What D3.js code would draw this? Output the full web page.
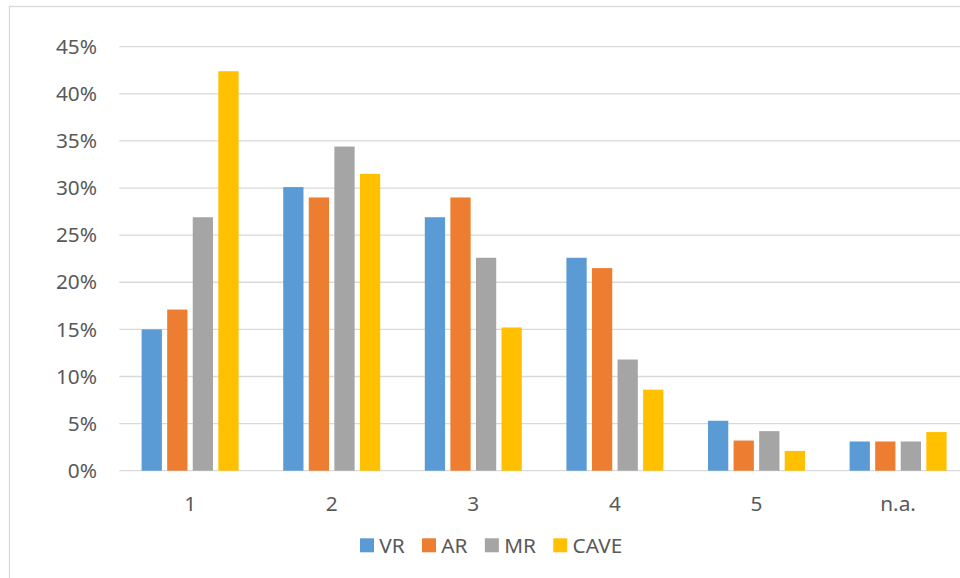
<!DOCTYPE html>
<html>
<head>
<meta charset="utf-8">
<script src="https://cdn.jsdelivr.net/npm/d3@7"></script>
<style>
  html, body { margin: 0; padding: 0; background: #ffffff; }
  svg { display: block; }
  text { font-family: "Noto Sans", "Open Sans", sans-serif; fill: #595959; }
</style>
</head>
<body>
<svg id="chart" width="960" height="578"></svg>
<script>
// Share of responses per rating, by presentation medium
const categories = ["1", "2", "3", "4", "5", "n.a."];
const seriesNames = ["VR", "AR", "MR", "CAVE"];
const vrValues   = [15.0, 30.1, 26.9, 22.6, 5.3, 3.1];
const arValues   = [17.1, 29.0, 29.0, 21.5, 3.2, 3.1];
const mrValues   = [26.9, 34.4, 22.6, 11.8, 4.2, 3.1];
const caveValues = [42.4, 31.5, 15.2,  8.6, 2.1, 4.1];
const yTicks = [0, 5, 10, 15, 20, 25, 30, 35, 40, 45];
const colors = ["#5B9BD5", "#ED7D31", "#A5A5A5", "#FFC000"];

const seriesValues = [vrValues, arValues, mrValues, caveValues];
const rows = categories.map((c, i) => ({
  category: c,
  values: seriesNames.map((s, j) => ({ series: s, value: seriesValues[j][i] }))
}));

const FONT_SIZE = 20.8;
const svg = d3.select("#chart");

// chart area frame
svg.append("rect")
  .attr("x", 9.5).attr("y", 6.5)
  .attr("width", 1000).attr("height", 1000)
  .attr("fill", "none").attr("stroke", "#d9d9d9").attr("stroke-width", 1.3);

const plotLeft = 119.3, plotRight = 968.9, plotTop = 46.7, plotBottom = 470.7;

const x0 = d3.scaleBand().domain(categories)
  .range([plotLeft, plotRight]).paddingInner(0.315).paddingOuter(0.1575);
const x1 = d3.scaleBand().domain(seriesNames)
  .range([0, x0.bandwidth()]).paddingInner(0.207);
const y = d3.scaleLinear().domain([0, 45]).range([plotBottom, plotTop]);
const color = d3.scaleOrdinal().domain(seriesNames).range(colors);

// gridlines
svg.append("g").selectAll("line").data(yTicks).join("line")
  .attr("x1", plotLeft).attr("x2", plotRight)
  .attr("y1", d => y(d)).attr("y2", d => y(d))
  .attr("stroke", "#d9d9d9").attr("stroke-width", 1.3);

// y axis labels
const yAxis = d3.axisLeft(y).tickValues(yTicks).tickSize(0).tickPadding(0)
  .tickFormat(d => d + "%");
const gy = svg.append("g").attr("transform", "translate(97,0)").call(yAxis);
gy.select(".domain").remove();
gy.selectAll("text").attr("font-size", FONT_SIZE).attr("font-family", null).attr("fill", "#595959");

// bars
const groups = svg.append("g").selectAll("g").data(rows).join("g")
  .attr("transform", d => `translate(${x0(d.category)},0)`);
groups.selectAll("rect").data(d => d.values).join("rect")
  .attr("x", d => x1(d.series))
  .attr("width", x1.bandwidth())
  .attr("y", d => y(d.value))
  .attr("height", d => y(0) - y(d.value))
  .attr("fill", d => color(d.series));

// x axis labels
const xAxis = d3.axisBottom(x0).tickSize(0).tickPadding(0);
const gx = svg.append("g").attr("transform", `translate(0,${plotBottom})`).call(xAxis);
gx.select(".domain").remove();
gx.selectAll("text").attr("font-size", FONT_SIZE).attr("font-family", null)
  .attr("fill", "#595959").attr("dy", null).attr("y", 40.5);

// legend
const legend = svg.append("g").attr("transform", "translate(360,538.3)");
let lx = 0;
seriesNames.forEach(s => {
  const item = legend.append("g").attr("transform", `translate(${lx},0)`);
  item.append("rect").attr("width", 14).attr("height", 14).attr("fill", color(s));
  const t = item.append("text").attr("x", 19.3).attr("y", 7).attr("dy", "0.35em")
    .attr("font-size", FONT_SIZE).text(s);
  lx += 19.3 + t.node().getComputedTextLength() + 17.3;
});
</script>
</body>
</html>
